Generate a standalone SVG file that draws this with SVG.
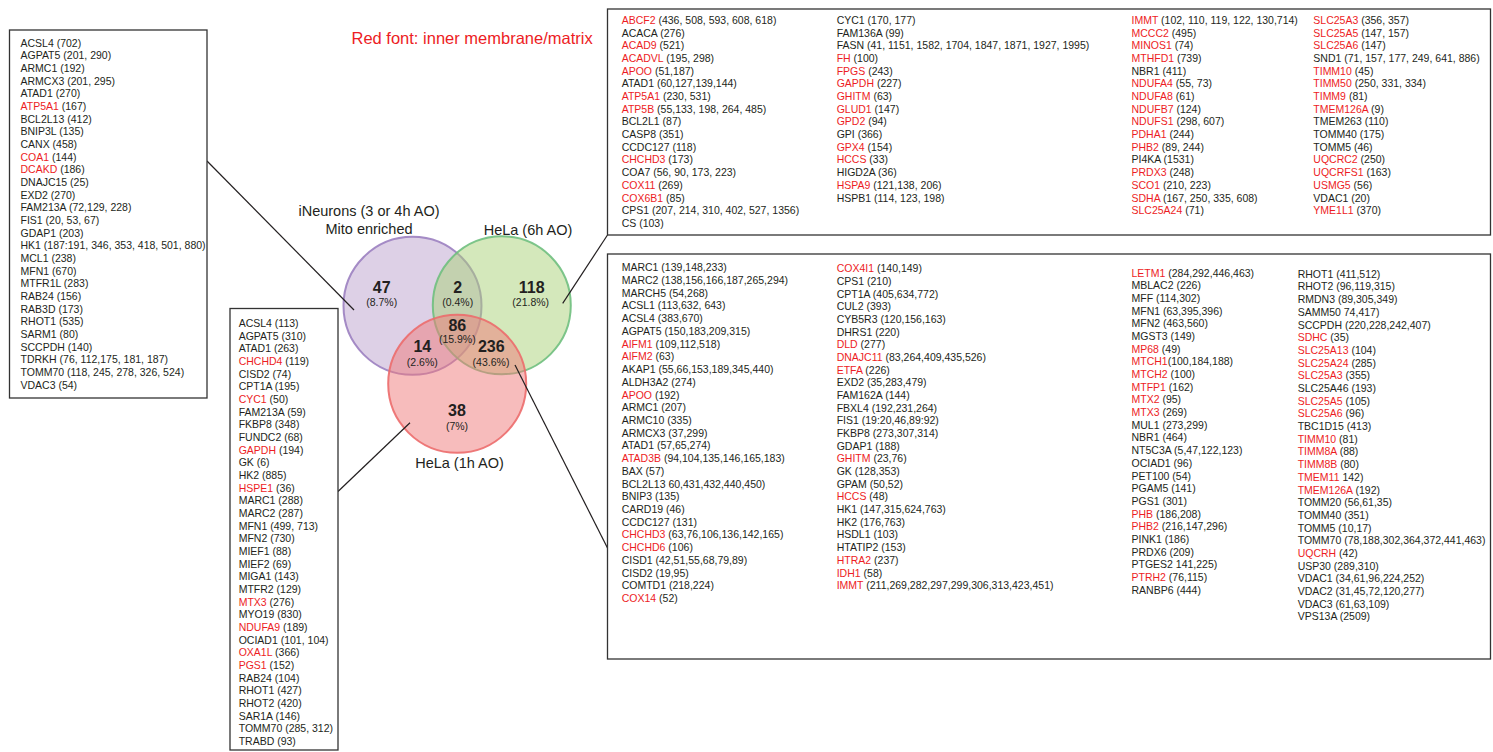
<svg xmlns="http://www.w3.org/2000/svg" width="1493" height="752" viewBox="0 0 1493 752">
<style>
.t{font-family:"Liberation Sans",Arial,sans-serif;font-size:10.5px;fill:#231f20}
.r{fill:#ed1c24}
.box{fill:#fff;stroke:#333;stroke-width:1.3}
.lbl{font-family:"Liberation Sans",Arial,sans-serif;font-size:14.5px;fill:#231f20;text-anchor:middle}
.num{font-family:"Liberation Sans",Arial,sans-serif;font-size:16px;font-weight:bold;fill:#231f20;text-anchor:middle}
.pct{font-family:"Liberation Sans",Arial,sans-serif;font-size:10.5px;fill:#231f20;text-anchor:middle}
.ln{stroke:#231f20;stroke-width:1.2;fill:none}
</style>
<rect width="1493" height="752" fill="#fff"/>
<text x="351.5" y="44" style="font-family:'Liberation Sans',Arial,sans-serif;font-size:16.5px;fill:#ed1c24">Red font: inner membrane/matrix</text>

<g id="venn">
<g id="circle-ineurons"><circle cx="412.5" cy="305.8" r="69" fill="#bba1cd" fill-opacity="0.5" stroke="#9b80c0" stroke-width="2" stroke-opacity="0.9"/></g>
<g id="circle-hela6"><circle cx="501.8" cy="305.3" r="69" fill="#a9d177" fill-opacity="0.5" stroke="#6fbf7e" stroke-width="2" stroke-opacity="0.9"/></g>
<g id="circle-hela1"><circle cx="457.2" cy="383.8" r="69" fill="#ef7979" fill-opacity="0.5" stroke="#ec6b6b" stroke-width="2" stroke-opacity="0.9"/></g>
<g id="venn-labels">
<text class="lbl" x="369" y="216">iNeurons (3 or 4h AO)</text>
<text class="lbl" x="369" y="233.5">Mito enriched</text>
<text class="lbl" x="528" y="234.5">HeLa (6h AO)</text>
<text class="lbl" x="459.5" y="468">HeLa (1h AO)</text>
<text class="num" x="381.7" y="293">47</text><text class="pct" x="381.7" y="305.5">(8.7%)</text>
<text class="num" x="457.7" y="293">2</text><text class="pct" x="457.7" y="305.5">(0.4%)</text>
<text class="num" x="531.7" y="293">118</text><text class="pct" x="530.7" y="305.5">(21.8%)</text>
<text class="num" x="457.3" y="330.8">86</text><text class="pct" x="457.3" y="343">(15.9%)</text>
<text class="num" x="422.3" y="351.8">14</text><text class="pct" x="422.3" y="365.8">(2.6%)</text>
<text class="num" x="491.3" y="351.8">236</text><text class="pct" x="491" y="365.8">(43.6%)</text>
<text class="num" x="457" y="415.8">38</text><text class="pct" x="457" y="429.8">(7%)</text>
</g>
</g>

<g id="connectors">
<line class="ln" x1="207" y1="161" x2="354" y2="310"/>
<line class="ln" x1="562.7" y1="303.3" x2="607.5" y2="235"/>
<line class="ln" x1="410" y1="422.7" x2="338" y2="491.5"/>
<line class="ln" x1="515" y1="365" x2="607.5" y2="548"/>
</g>

<g id="box-ineurons-only">
<rect class="box" x="9.5" y="30" width="197.5" height="368"/>
<text class="t" y="46.5"><tspan x="20.5">ACSL4 (702)</tspan><tspan x="20.5" dy="12.68">AGPAT5 (201, 290)</tspan><tspan x="20.5" dy="12.68">ARMC1 (192)</tspan><tspan x="20.5" dy="12.68">ARMCX3 (201, 295)</tspan><tspan x="20.5" dy="12.68">ATAD1 (270)</tspan><tspan x="20.5" dy="12.68"><tspan class="r">ATP5A1</tspan> (167)</tspan><tspan x="20.5" dy="12.68">BCL2L13 (412)</tspan><tspan x="20.5" dy="12.68">BNIP3L (135)</tspan><tspan x="20.5" dy="12.68">CANX (458)</tspan><tspan x="20.5" dy="12.68"><tspan class="r">COA1</tspan> (144)</tspan><tspan x="20.5" dy="12.68"><tspan class="r">DCAKD</tspan> (186)</tspan><tspan x="20.5" dy="12.68">DNAJC15 (25)</tspan><tspan x="20.5" dy="12.68">EXD2 (270)</tspan><tspan x="20.5" dy="12.68">FAM213A (72,129, 228)</tspan><tspan x="20.5" dy="12.68">FIS1 (20, 53, 67)</tspan><tspan x="20.5" dy="12.68">GDAP1 (203)</tspan><tspan x="20.5" dy="12.68">HK1 (187:191, 346, 353, 418, 501, 880)</tspan><tspan x="20.5" dy="12.68">MCL1 (238)</tspan><tspan x="20.5" dy="12.68">MFN1 (670)</tspan><tspan x="20.5" dy="12.68">MTFR1L (283)</tspan><tspan x="20.5" dy="12.68">RAB24 (156)</tspan><tspan x="20.5" dy="12.68">RAB3D (173)</tspan><tspan x="20.5" dy="12.68">RHOT1 (535)</tspan><tspan x="20.5" dy="12.68">SARM1 (80)</tspan><tspan x="20.5" dy="12.68">SCCPDH (140)</tspan><tspan x="20.5" dy="12.68">TDRKH (76, 112,175, 181, 187)</tspan><tspan x="20.5" dy="12.68">TOMM70 (118, 245, 278, 326, 524)</tspan><tspan x="20.5" dy="12.68">VDAC3 (54)</tspan></text>
</g>

<g id="box-ineurons-hela1">
<rect class="box" x="230" y="308.5" width="108" height="441.5"/>
<text class="t" y="327"><tspan x="238.7">ACSL4 (113)</tspan><tspan x="238.7" dy="12.67">AGPAT5 (310)</tspan><tspan x="238.7" dy="12.67">ATAD1 (263)</tspan><tspan x="238.7" dy="12.67"><tspan class="r">CHCHD4</tspan> (119)</tspan><tspan x="238.7" dy="12.67">CISD2 (74)</tspan><tspan x="238.7" dy="12.67">CPT1A (195)</tspan><tspan x="238.7" dy="12.67"><tspan class="r">CYC1</tspan> (50)</tspan><tspan x="238.7" dy="12.67">FAM213A (59)</tspan><tspan x="238.7" dy="12.67">FKBP8 (348)</tspan><tspan x="238.7" dy="12.67">FUNDC2 (68)</tspan><tspan x="238.7" dy="12.67"><tspan class="r">GAPDH</tspan> (194)</tspan><tspan x="238.7" dy="12.67">GK (6)</tspan><tspan x="238.7" dy="12.67">HK2 (885)</tspan><tspan x="238.7" dy="12.67"><tspan class="r">HSPE1</tspan> (36)</tspan><tspan x="238.7" dy="12.67">MARC1 (288)</tspan><tspan x="238.7" dy="12.67">MARC2 (287)</tspan><tspan x="238.7" dy="12.67">MFN1 (499, 713)</tspan><tspan x="238.7" dy="12.67">MFN2 (730)</tspan><tspan x="238.7" dy="12.67">MIEF1 (88)</tspan><tspan x="238.7" dy="12.67">MIEF2 (69)</tspan><tspan x="238.7" dy="12.67">MIGA1 (143)</tspan><tspan x="238.7" dy="12.67">MTFR2 (129)</tspan><tspan x="238.7" dy="12.67"><tspan class="r">MTX3</tspan> (276)</tspan><tspan x="238.7" dy="12.67">MYO19 (830)</tspan><tspan x="238.7" dy="12.67"><tspan class="r">NDUFA9</tspan> (189)</tspan><tspan x="238.7" dy="12.67">OCIAD1 (101, 104)</tspan><tspan x="238.7" dy="12.67"><tspan class="r">OXA1L</tspan> (366)</tspan><tspan x="238.7" dy="12.67"><tspan class="r">PGS1</tspan> (152)</tspan><tspan x="238.7" dy="12.67">RAB24 (104)</tspan><tspan x="238.7" dy="12.67">RHOT1 (427)</tspan><tspan x="238.7" dy="12.67">RHOT2 (420)</tspan><tspan x="238.7" dy="12.67">SAR1A (146)</tspan><tspan x="238.7" dy="12.67">TOMM70 (285, 312)</tspan><tspan x="238.7" dy="12.67">TRABD (93)</tspan></text>
</g>

<g id="box-hela6-only">
<rect class="box" x="607.5" y="9" width="883" height="226"/>
<text class="t" y="23.8"><tspan x="621.7"><tspan class="r">ABCF2</tspan> (436, 508, 593, 608, 618)</tspan><tspan x="621.7" dy="12.7">ACACA (276)</tspan><tspan x="621.7" dy="12.7"><tspan class="r">ACAD9</tspan> (521)</tspan><tspan x="621.7" dy="12.7"><tspan class="r">ACADVL</tspan> (195, 298)</tspan><tspan x="621.7" dy="12.7"><tspan class="r">APOO</tspan> (51,187)</tspan><tspan x="621.7" dy="12.7">ATAD1 (60,127,139,144)</tspan><tspan x="621.7" dy="12.7"><tspan class="r">ATP5A1</tspan> (230, 531)</tspan><tspan x="621.7" dy="12.7"><tspan class="r">ATP5B</tspan> (55,133, 198, 264, 485)</tspan><tspan x="621.7" dy="12.7">BCL2L1 (87)</tspan><tspan x="621.7" dy="12.7">CASP8 (351)</tspan><tspan x="621.7" dy="12.7">CCDC127 (118)</tspan><tspan x="621.7" dy="12.7"><tspan class="r">CHCHD3</tspan> (173)</tspan><tspan x="621.7" dy="12.7">COA7 (56, 90, 173, 223)</tspan><tspan x="621.7" dy="12.7"><tspan class="r">COX11</tspan> (269)</tspan><tspan x="621.7" dy="12.7"><tspan class="r">COX6B1</tspan> (85)</tspan><tspan x="621.7" dy="12.7">CPS1 (207, 214, 310, 402, 527, 1356)</tspan><tspan x="621.7" dy="12.7">CS (103)</tspan></text>
<text class="t" y="23.8"><tspan x="836.7">CYC1 (170, 177)</tspan><tspan x="836.7" dy="12.7">FAM136A (99)</tspan><tspan x="836.7" dy="12.7">FASN (41, 1151, 1582, 1704, 1847, 1871, 1927, 1995)</tspan><tspan x="836.7" dy="12.7"><tspan class="r">FH</tspan> (100)</tspan><tspan x="836.7" dy="12.7"><tspan class="r">FPGS</tspan> (243)</tspan><tspan x="836.7" dy="12.7"><tspan class="r">GAPDH</tspan> (227)</tspan><tspan x="836.7" dy="12.7"><tspan class="r">GHITM</tspan> (63)</tspan><tspan x="836.7" dy="12.7"><tspan class="r">GLUD1</tspan> (147)</tspan><tspan x="836.7" dy="12.7"><tspan class="r">GPD2</tspan> (94)</tspan><tspan x="836.7" dy="12.7">GPI (366)</tspan><tspan x="836.7" dy="12.7"><tspan class="r">GPX4</tspan> (154)</tspan><tspan x="836.7" dy="12.7"><tspan class="r">HCCS</tspan> (33)</tspan><tspan x="836.7" dy="12.7">HIGD2A (36)</tspan><tspan x="836.7" dy="12.7"><tspan class="r">HSPA9</tspan> (121,138, 206)</tspan><tspan x="836.7" dy="12.7">HSPB1 (114, 123, 198)</tspan></text>
<text class="t" y="23.8"><tspan x="1131.5"><tspan class="r">IMMT</tspan> (102, 110, 119, 122, 130,714)</tspan><tspan x="1131.5" dy="12.7"><tspan class="r">MCCC2</tspan> (495)</tspan><tspan x="1131.5" dy="12.7"><tspan class="r">MINOS1</tspan> (74)</tspan><tspan x="1131.5" dy="12.7"><tspan class="r">MTHFD1</tspan> (739)</tspan><tspan x="1131.5" dy="12.7">NBR1 (411)</tspan><tspan x="1131.5" dy="12.7"><tspan class="r">NDUFA4</tspan> (55, 73)</tspan><tspan x="1131.5" dy="12.7"><tspan class="r">NDUFA8</tspan> (61)</tspan><tspan x="1131.5" dy="12.7"><tspan class="r">NDUFB7</tspan> (124)</tspan><tspan x="1131.5" dy="12.7"><tspan class="r">NDUFS1</tspan> (298, 607)</tspan><tspan x="1131.5" dy="12.7"><tspan class="r">PDHA1</tspan> (244)</tspan><tspan x="1131.5" dy="12.7"><tspan class="r">PHB2</tspan> (89, 244)</tspan><tspan x="1131.5" dy="12.7">PI4KA (1531)</tspan><tspan x="1131.5" dy="12.7"><tspan class="r">PRDX3</tspan> (248)</tspan><tspan x="1131.5" dy="12.7"><tspan class="r">SCO1</tspan> (210, 223)</tspan><tspan x="1131.5" dy="12.7"><tspan class="r">SDHA</tspan> (167, 250, 335, 608)</tspan><tspan x="1131.5" dy="12.7"><tspan class="r">SLC25A24</tspan> (71)</tspan></text>
<text class="t" y="23.8"><tspan x="1313.3"><tspan class="r">SLC25A3</tspan> (356, 357)</tspan><tspan x="1313.3" dy="12.7"><tspan class="r">SLC25A5</tspan> (147, 157)</tspan><tspan x="1313.3" dy="12.7"><tspan class="r">SLC25A6</tspan> (147)</tspan><tspan x="1313.3" dy="12.7">SND1 (71, 157, 177, 249, 641, 886)</tspan><tspan x="1313.3" dy="12.7"><tspan class="r">TIMM10</tspan> (45)</tspan><tspan x="1313.3" dy="12.7"><tspan class="r">TIMM50</tspan> (250, 331, 334)</tspan><tspan x="1313.3" dy="12.7"><tspan class="r">TIMM9</tspan> (81)</tspan><tspan x="1313.3" dy="12.7"><tspan class="r">TMEM126A</tspan> (9)</tspan><tspan x="1313.3" dy="12.7">TMEM263 (110)</tspan><tspan x="1313.3" dy="12.7">TOMM40 (175)</tspan><tspan x="1313.3" dy="12.7">TOMM5 (46)</tspan><tspan x="1313.3" dy="12.7"><tspan class="r">UQCRC2</tspan> (250)</tspan><tspan x="1313.3" dy="12.7"><tspan class="r">UQCRFS1</tspan> (163)</tspan><tspan x="1313.3" dy="12.7"><tspan class="r">USMG5</tspan> (56)</tspan><tspan x="1313.3" dy="12.7">VDAC1 (20)</tspan><tspan x="1313.3" dy="12.7"><tspan class="r">YME1L1</tspan> (370)</tspan></text>
</g>

<g id="box-hela6-hela1">
<rect class="box" x="607.5" y="254" width="883" height="405"/>
<text class="t" y="271.3"><tspan x="621.7">MARC1 (139,148,233)</tspan><tspan x="621.7" dy="12.72">MARC2 (138,156,166,187,265,294)</tspan><tspan x="621.7" dy="12.72">MARCH5 (54,268)</tspan><tspan x="621.7" dy="12.72">ACSL1 (113,632, 643)</tspan><tspan x="621.7" dy="12.72">ACSL4 (383,670)</tspan><tspan x="621.7" dy="12.72">AGPAT5 (150,183,209,315)</tspan><tspan x="621.7" dy="12.72"><tspan class="r">AIFM1</tspan> (109,112,518)</tspan><tspan x="621.7" dy="12.72"><tspan class="r">AIFM2</tspan> (63)</tspan><tspan x="621.7" dy="12.72">AKAP1 (55,66,153,189,345,440)</tspan><tspan x="621.7" dy="12.72">ALDH3A2 (274)</tspan><tspan x="621.7" dy="12.72"><tspan class="r">APOO</tspan> (192)</tspan><tspan x="621.7" dy="12.72">ARMC1 (207)</tspan><tspan x="621.7" dy="12.72">ARMC10 (335)</tspan><tspan x="621.7" dy="12.72">ARMCX3 (37,299)</tspan><tspan x="621.7" dy="12.72">ATAD1 (57,65,274)</tspan><tspan x="621.7" dy="12.72"><tspan class="r">ATAD3B</tspan> (94,104,135,146,165,183)</tspan><tspan x="621.7" dy="12.72">BAX (57)</tspan><tspan x="621.7" dy="12.72">BCL2L13 60,431,432,440,450)</tspan><tspan x="621.7" dy="12.72">BNIP3 (135)</tspan><tspan x="621.7" dy="12.72">CARD19 (46)</tspan><tspan x="621.7" dy="12.72">CCDC127 (131)</tspan><tspan x="621.7" dy="12.72"><tspan class="r">CHCHD3</tspan> (63,76,106,136,142,165)</tspan><tspan x="621.7" dy="12.72"><tspan class="r">CHCHD6</tspan> (106)</tspan><tspan x="621.7" dy="12.72">CISD1 (42,51,55,68,79,89)</tspan><tspan x="621.7" dy="12.72">CISD2 (19,95)</tspan><tspan x="621.7" dy="12.72">COMTD1 (218,224)</tspan><tspan x="621.7" dy="12.72"><tspan class="r">COX14</tspan> (52)</tspan></text>
<text class="t" y="272.2"><tspan x="836.7"><tspan class="r">COX4I1</tspan> (140,149)</tspan><tspan x="836.7" dy="12.68">CPS1 (210)</tspan><tspan x="836.7" dy="12.68">CPT1A (405,634,772)</tspan><tspan x="836.7" dy="12.68">CUL2 (393)</tspan><tspan x="836.7" dy="12.68">CYB5R3 (120,156,163)</tspan><tspan x="836.7" dy="12.68">DHRS1 (220)</tspan><tspan x="836.7" dy="12.68"><tspan class="r">DLD</tspan> (277)</tspan><tspan x="836.7" dy="12.68"><tspan class="r">DNAJC11</tspan> (83,264,409,435,526)</tspan><tspan x="836.7" dy="12.68"><tspan class="r">ETFA</tspan> (226)</tspan><tspan x="836.7" dy="12.68">EXD2 (35,283,479)</tspan><tspan x="836.7" dy="12.68">FAM162A (144)</tspan><tspan x="836.7" dy="12.68">FBXL4 (192,231,264)</tspan><tspan x="836.7" dy="12.68">FIS1 (19:20,46,89:92)</tspan><tspan x="836.7" dy="12.68">FKBP8 (273,307,314)</tspan><tspan x="836.7" dy="12.68">GDAP1 (188)</tspan><tspan x="836.7" dy="12.68"><tspan class="r">GHITM</tspan> (23,76)</tspan><tspan x="836.7" dy="12.68">GK (128,353)</tspan><tspan x="836.7" dy="12.68">GPAM (50,52)</tspan><tspan x="836.7" dy="12.68"><tspan class="r">HCCS</tspan> (48)</tspan><tspan x="836.7" dy="12.68">HK1 (147,315,624,763)</tspan><tspan x="836.7" dy="12.68">HK2 (176,763)</tspan><tspan x="836.7" dy="12.68">HSDL1 (103)</tspan><tspan x="836.7" dy="12.68">HTATIP2 (153)</tspan><tspan x="836.7" dy="12.68"><tspan class="r">HTRA2</tspan> (237)</tspan><tspan x="836.7" dy="12.68"><tspan class="r">IDH1</tspan> (58)</tspan><tspan x="836.7" dy="12.68"><tspan class="r">IMMT</tspan> (211,269,282,297,299,306,313,423,451)</tspan></text>
<text class="t" y="276.5"><tspan x="1131.5"><tspan class="r">LETM1</tspan> (284,292,446,463)</tspan><tspan x="1131.5" dy="12.69">MBLAC2 (226)</tspan><tspan x="1131.5" dy="12.69">MFF (114,302)</tspan><tspan x="1131.5" dy="12.69">MFN1 (63,395,396)</tspan><tspan x="1131.5" dy="12.69">MFN2 (463,560)</tspan><tspan x="1131.5" dy="12.69">MGST3 (149)</tspan><tspan x="1131.5" dy="12.69"><tspan class="r">MP68</tspan> (49)</tspan><tspan x="1131.5" dy="12.69"><tspan class="r">MTCH1</tspan>(100,184,188)</tspan><tspan x="1131.5" dy="12.69"><tspan class="r">MTCH2</tspan> (100)</tspan><tspan x="1131.5" dy="12.69"><tspan class="r">MTFP1</tspan> (162)</tspan><tspan x="1131.5" dy="12.69"><tspan class="r">MTX2</tspan> (95)</tspan><tspan x="1131.5" dy="12.69"><tspan class="r">MTX3</tspan> (269)</tspan><tspan x="1131.5" dy="12.69">MUL1 (273,299)</tspan><tspan x="1131.5" dy="12.69">NBR1 (464)</tspan><tspan x="1131.5" dy="12.69">NT5C3A (5,47,122,123)</tspan><tspan x="1131.5" dy="12.69">OCIAD1 (96)</tspan><tspan x="1131.5" dy="12.69">PET100 (54)</tspan><tspan x="1131.5" dy="12.69">PGAM5 (141)</tspan><tspan x="1131.5" dy="12.69">PGS1 (301)</tspan><tspan x="1131.5" dy="12.69"><tspan class="r">PHB</tspan> (186,208)</tspan><tspan x="1131.5" dy="12.69"><tspan class="r">PHB2</tspan> (216,147,296)</tspan><tspan x="1131.5" dy="12.69">PINK1 (186)</tspan><tspan x="1131.5" dy="12.69">PRDX6 (209)</tspan><tspan x="1131.5" dy="12.69">PTGES2 141,225)</tspan><tspan x="1131.5" dy="12.69"><tspan class="r">PTRH2</tspan> (76,115)</tspan><tspan x="1131.5" dy="12.69">RANBP6 (444)</tspan></text>
<text class="t" y="277.8"><tspan x="1297.7">RHOT1 (411,512)</tspan><tspan x="1297.7" dy="12.69">RHOT2 (96,119,315)</tspan><tspan x="1297.7" dy="12.69">RMDN3 (89,305,349)</tspan><tspan x="1297.7" dy="12.69">SAMM50 74,417)</tspan><tspan x="1297.7" dy="12.69">SCCPDH (220,228,242,407)</tspan><tspan x="1297.7" dy="12.69"><tspan class="r">SDHC</tspan> (35)</tspan><tspan x="1297.7" dy="12.69"><tspan class="r">SLC25A13</tspan> (104)</tspan><tspan x="1297.7" dy="12.69"><tspan class="r">SLC25A24</tspan> (285)</tspan><tspan x="1297.7" dy="12.69"><tspan class="r">SLC25A3</tspan> (355)</tspan><tspan x="1297.7" dy="12.69">SLC25A46 (193)</tspan><tspan x="1297.7" dy="12.69"><tspan class="r">SLC25A5</tspan> (105)</tspan><tspan x="1297.7" dy="12.69"><tspan class="r">SLC25A6</tspan> (96)</tspan><tspan x="1297.7" dy="12.69">TBC1D15 (413)</tspan><tspan x="1297.7" dy="12.69"><tspan class="r">TIMM10</tspan> (81)</tspan><tspan x="1297.7" dy="12.69"><tspan class="r">TIMM8A</tspan> (88)</tspan><tspan x="1297.7" dy="12.69"><tspan class="r">TIMM8B</tspan> (80)</tspan><tspan x="1297.7" dy="12.69"><tspan class="r">TMEM11</tspan> 142)</tspan><tspan x="1297.7" dy="12.69"><tspan class="r">TMEM126A</tspan> (192)</tspan><tspan x="1297.7" dy="12.69">TOMM20 (56,61,35)</tspan><tspan x="1297.7" dy="12.69">TOMM40 (351)</tspan><tspan x="1297.7" dy="12.69">TOMM5 (10,17)</tspan><tspan x="1297.7" dy="12.69">TOMM70 (78,188,302,364,372,441,463)</tspan><tspan x="1297.7" dy="12.69"><tspan class="r">UQCRH</tspan> (42)</tspan><tspan x="1297.7" dy="12.69">USP30 (289,310)</tspan><tspan x="1297.7" dy="12.69">VDAC1 (34,61,96,224,252)</tspan><tspan x="1297.7" dy="12.69">VDAC2 (31,45,72,120,277)</tspan><tspan x="1297.7" dy="12.69">VDAC3 (61,63,109)</tspan><tspan x="1297.7" dy="12.69">VPS13A (2509)</tspan></text>
</g>
</svg>
